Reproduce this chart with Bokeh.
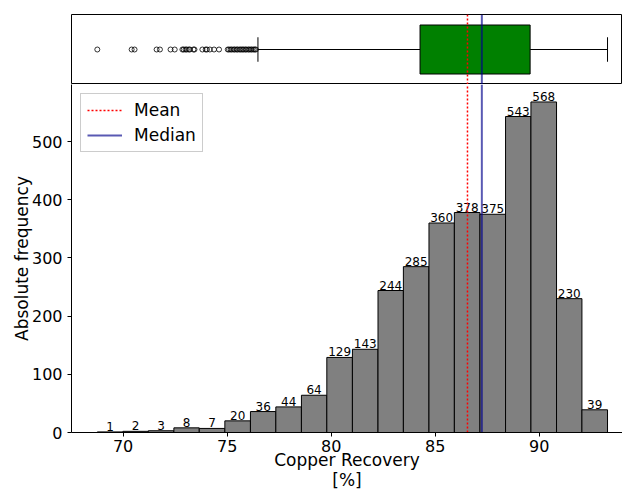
from bokeh.plotting import figure
from bokeh.layouts import column
from bokeh.models import Range1d, Span, FixedTicker
from bokeh.core.properties import value
from bokeh.embed import file_html
from bokeh.resources import INLINE

FONT = "DejaVu Sans"

# ---- data ----
bin_edges = [68.76, 69.99, 71.21, 72.44, 73.66, 74.89, 76.12, 77.34, 78.57, 79.79,
             81.02, 82.25, 83.47, 84.70, 85.92, 87.15, 88.38, 89.60, 90.83, 92.05, 93.28]
counts = [1, 2, 3, 8, 7, 20, 36, 44, 64, 129, 143, 244, 285, 360, 378, 375, 543, 568, 230, 39]

mean_val = 86.55
median_val = 87.24
q1 = 84.27
q3 = 89.56
whisker_low = 76.48
whisker_high = 93.28
outliers = [68.76, 70.41, 70.55, 71.61, 71.77, 72.28, 72.48, 72.85, 72.91, 73.00, 73.06,
            73.16, 73.21, 73.38, 73.43, 73.81, 73.97, 74.03, 74.17, 74.37, 74.61,
            75.03, 75.09, 75.17, 75.23, 75.32, 75.37, 75.46, 75.51, 75.60, 75.66,
            75.73, 75.79, 75.87, 75.92, 76.01, 76.06, 76.14, 76.19, 76.27, 76.33, 76.38]

x_ticks = [70, 75, 80, 85, 90]
y_ticks = [0, 100, 200, 300, 400, 500]
x_label = "Copper Recovery\n[%]"
y_label = "Absolute frequency"

x_range = Range1d(67.52, 94.0)
y_max = 598

# ---- top boxplot panel ----
top = figure(width=622, height=84, x_range=x_range, y_range=Range1d(0.5, 1.5),
             output_backend="svg", toolbar_location=None,
             x_axis_type=None, y_axis_type=None,
             min_border_left=71, min_border_right=0, min_border_top=14, min_border_bottom=0)
top.outline_line_color = "black"
top.outline_line_width = 1
for g in top.grid:
    g.visible = False

top.segment(x0=[whisker_low, q3], y0=[1, 1], x1=[q1, whisker_high], y1=[1, 1],
            line_color="black", line_width=1)
top.segment(x0=[whisker_low, whisker_high], y0=[0.825, 0.825],
            x1=[whisker_low, whisker_high], y1=[1.175, 1.175],
            line_color="black", line_width=1)
top.quad(left=[q1], right=[q3], bottom=[0.65], top=[1.35],
         fill_color="green", line_color="black", line_width=1)
top.scatter(x=outliers, y=[1] * len(outliers), marker="circle", size=5,
            fill_color=None, line_color="black", line_width=0.8)
top.add_layout(Span(location=mean_val, dimension="height", line_color="red",
                    line_dash="2 2", line_width=1.5))
top.add_layout(Span(location=median_val, dimension="height", line_color="darkblue",
                    line_alpha=0.65, line_width=2))

# ---- histogram panel ----
p = figure(width=622, height=408, x_range=x_range, y_range=Range1d(0, y_max),
           output_backend="svg", toolbar_location=None,
           min_border_left=71, min_border_right=0, min_border_top=0, min_border_bottom=60)
p.outline_line_color = None
p.grid.visible = False

lefts = bin_edges[:-1]
rights = bin_edges[1:]
centers = [(a + b) / 2 for a, b in zip(lefts, rights)]
p.quad(left=lefts, right=rights, bottom=[0] * len(counts), top=counts,
       fill_color="#808080", line_color="black", line_width=1)
p.text(x=centers, y=counts, text=[str(c) for c in counts],
       text_align="center", text_baseline="bottom", y_offset=-1,
       text_font=value(FONT), text_font_size="12px", text_color="black")

p.segment(x0=[mean_val], y0=[0], x1=[mean_val], y1=[y_max], line_color="red",
          line_dash="2 2", line_width=1.5, legend_label="Mean")
p.segment(x0=[median_val], y0=[0], x1=[median_val], y1=[y_max], line_color="darkblue",
          line_alpha=0.65, line_width=2, legend_label="Median")

p.legend.location = "top_left"
p.legend.margin = 9
p.legend.padding = 6
p.legend.spacing = 5
p.legend.glyph_width = 35
p.legend.label_standoff = 12
p.legend.label_text_font = FONT
p.legend.label_text_font_size = "17px"
p.legend.label_text_color = "black"
p.legend.border_line_color = "#cccccc"
p.legend.border_line_alpha = 1
p.legend.background_fill_alpha = 0.8

for ax in (p.xaxis[0], p.yaxis[0]):
    ax.major_label_text_font = FONT
    ax.major_label_text_font_size = "16px"
    ax.major_label_text_color = "black"
    ax.axis_label_text_font = FONT
    ax.axis_label_text_font_size = "17px"
    ax.axis_label_text_font_style = "normal"
    ax.axis_label_text_color = "black"
    ax.minor_tick_line_color = None
    ax.major_tick_out = 4
    ax.major_tick_in = 0
    ax.axis_line_color = "black"
    ax.major_tick_line_color = "black"

p.xaxis.ticker = FixedTicker(ticks=x_ticks)
p.yaxis.ticker = FixedTicker(ticks=y_ticks)
p.xaxis.major_label_standoff = 3
p.xaxis.axis_label = x_label
p.xaxis.axis_label_standoff = -5
p.xaxis.axis_label_text_line_height = 1.0
p.yaxis.axis_label = y_label
p.yaxis.axis_label_standoff = -3

layout = column(top, p, spacing=0)
open("out.html", "w").write(file_html(layout, INLINE))
